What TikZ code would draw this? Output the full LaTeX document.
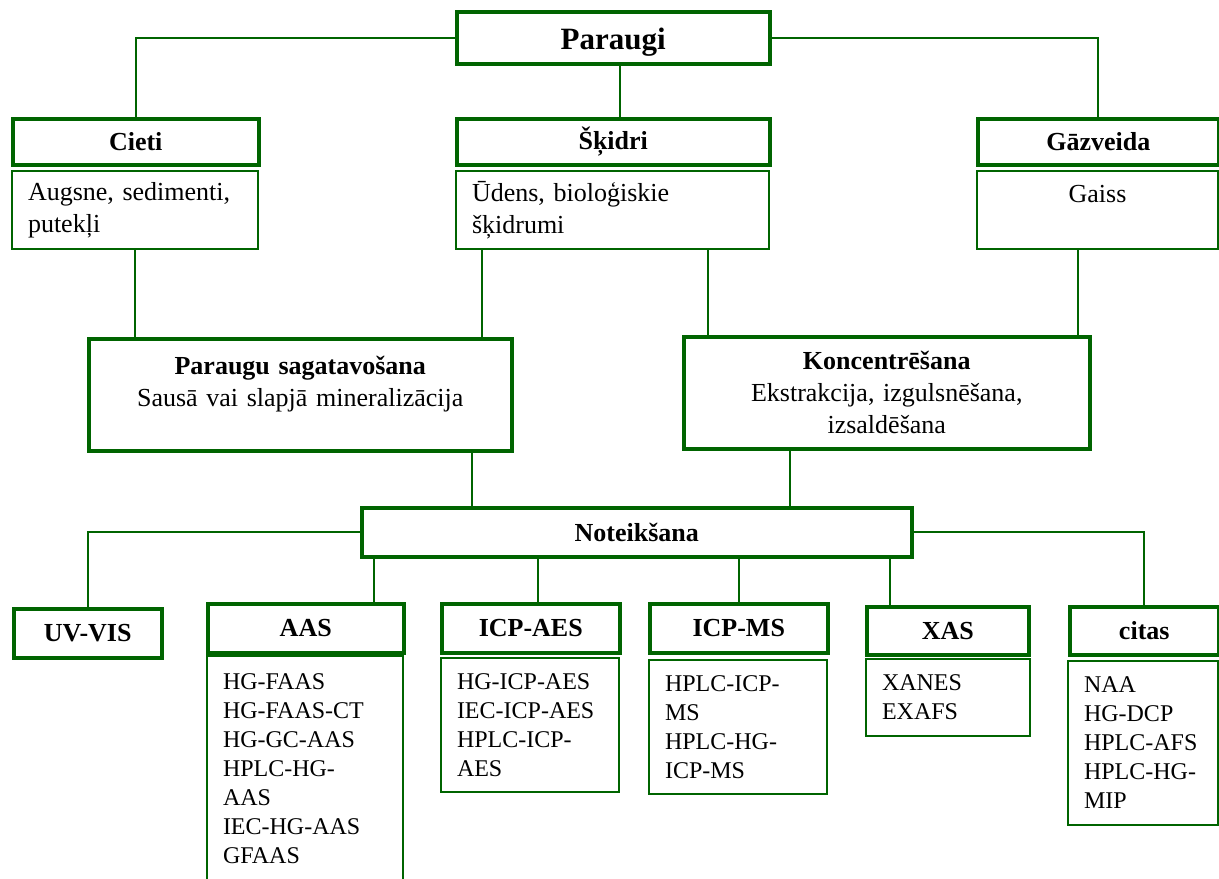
\documentclass[tikz,border=0pt]{standalone}
\usepackage{fontspec}
\setmainfont{Liberation Serif}
\usepackage{tikz}
\usetikzlibrary{positioning}
\definecolor{darkgreen}{RGB}{0,100,0}

\begin{document}
\begin{tikzpicture}[x=0.5pt,y=-0.5pt,
    head/.style={draw=darkgreen,line width=1.75pt,anchor=north west,inner sep=0pt,
        minimum height=24.5pt,font=\fontsize{13}{16}\selectfont\bfseries},
    txt/.style={draw=darkgreen,line width=1pt,anchor=north west,inner xsep=8pt,
        inner ysep=0pt,align=left,font=\fontsize{13}{16}\selectfont},
    list/.style={draw=darkgreen,line width=1pt,anchor=north west,inner xsep=8pt,
        inner ysep=0pt,align=left,font=\fontsize{12}{14.5}\selectfont},
    link/.style={draw=darkgreen,line width=1pt}]

    \useasboundingbox (0,0) rectangle (1219,878);

    % paraugi un to veidi
    \node[head,minimum width=156.5pt,minimum height=26pt,text height=19pt,text depth=7pt,
        font=\fontsize{15.5}{18}\selectfont\bfseries] (paraugi) at (455,10) {Paraugi};
    \node[head,minimum width=123pt,minimum height=23pt] (cieti) at (11,117) {Cieti};
    \node[txt,minimum width=123pt,minimum height=39pt,text width=107pt] (cietitxt) at (11,170) {Augsne, sedimenti,\\putekļi};
    \node[head,minimum width=156.5pt,minimum height=23pt] (skidri) at (455,117) {Šķidri};
    \node[txt,minimum width=156.5pt,minimum height=39pt,text width=140.5pt] (skidritxt) at (455,170) {Ūdens, bioloģiskie\\šķidrumi};
    \node[head,minimum width=120.5pt,minimum height=23pt] (gaz) at (976,117) {Gāzveida};
    \node[txt,minimum width=120.5pt,text width=104.5pt,align=center,text height=15.5pt,text depth=23.5pt] (gaztxt) at (976,170) {Gaiss};

    % sagatavosana
    \node[head,minimum width=211.5pt,text width=195.5pt,align=center,font=\fontsize{13}{16}\selectfont,
        text height=18pt,text depth=38pt] (parsag) at (87,337) {\textbf{Paraugu sagatavošana}\\Sausā vai slapjā mineralizācija};
    \node[head,minimum width=203pt,minimum height=56pt,text width=187pt,align=center,font=\fontsize{13}{16}\selectfont] (konc) at (682,335) {\textbf{Koncentrēšana}\\Ekstrakcija, izgulsnēšana,\\izsaldēšana};

    % noteiksana
    \node[head,minimum width=275pt] (noteik) at (360,506) {Noteikšana};
    \node[head,minimum width=74pt] (uvvis) at (12,607) {UV-VIS};
    \node[head,minimum width=98pt] (aas) at (206,602) {AAS};
    \node[list,minimum width=98pt,minimum height=113pt,text width=82pt] (aaslist) at (206,655) {HG-FAAS\\HG-FAAS-CT\\HG-GC-AAS\\HPLC-HG-\\AAS\\IEC-HG-AAS\\GFAAS};
    \node[head,minimum width=89pt] (icpaes) at (440,602) {ICP-AES};
    \node[list,minimum width=89pt,minimum height=67pt,text width=73pt] (icpaeslist) at (440,657) {HG-ICP-AES\\IEC-ICP-AES\\HPLC-ICP-\\AES};
    \node[head,minimum width=89pt] (icpms) at (648,602) {ICP-MS};
    \node[list,minimum width=89pt,minimum height=67pt,text width=73pt] (icpmslist) at (648,659) {HPLC-ICP-\\MS\\HPLC-HG-\\ICP-MS};
    \node[head,minimum width=81pt,minimum height=24pt] (xas) at (865,605) {XAS};
    \node[list,minimum width=82pt,minimum height=38.5pt,text width=66pt] (xaslist) at (865,658) {XANES\\EXAFS};
    \node[head,minimum width=74.5pt,minimum height=24pt] (citas) at (1068,605) {citas};
    \node[list,minimum width=75pt,minimum height=82pt,text width=59pt] (citaslist) at (1067,660) {NAA\\HG-DCP\\HPLC-AFS\\HPLC-HG-\\MIP};

    % savienojumi
    \draw[link] (paraugi.west) -| (cieti.north);
    \draw[link] (paraugi.east) -| (gaz.north);
    \draw[link] ([xshift=3.5pt]paraugi.south) -- ([xshift=3.5pt]skidri.north);
    \draw[link] (cietitxt.south) -- (cietitxt.south |- parsag.north);
    \coordinate (s1) at ([xshift=13.5pt]skidritxt.south west);
    \draw[link] (s1) -- (s1 |- parsag.north);
    \coordinate (s2) at ([xshift=13pt]konc.north west);
    \draw[link] (s2 |- skidritxt.south) -- (s2);
    \coordinate (g1) at ([xshift=-7pt]konc.north east);
    \draw[link] (g1 |- gaztxt.south) -- (g1);
    \coordinate (p1) at ([xshift=-21pt]parsag.south east);
    \draw[link] (p1) -- (p1 |- noteik.north);
    \coordinate (k1) at ([xshift=54pt]konc.south west);
    \draw[link] (k1) -- (k1 |- noteik.north);
    \draw[link] (noteik.west) -| (uvvis.north);
    \draw[link] (noteik.east) -| (citas.north);
    \coordinate (n1) at ([xshift=7pt]noteik.south west);
    \draw[link] (n1) -- (n1 |- aas.north);
    \coordinate (n2) at ([xshift=3.5pt]icpaes.north);
    \draw[link] (n2 |- noteik.south) -- (n2);
    \draw[link] (icpms.north |- noteik.south) -- (icpms.north);
    \coordinate (n3) at ([xshift=-12pt]noteik.south east);
    \draw[link] (n3) -- (n3 |- xas.north);
\end{tikzpicture}
\end{document}
